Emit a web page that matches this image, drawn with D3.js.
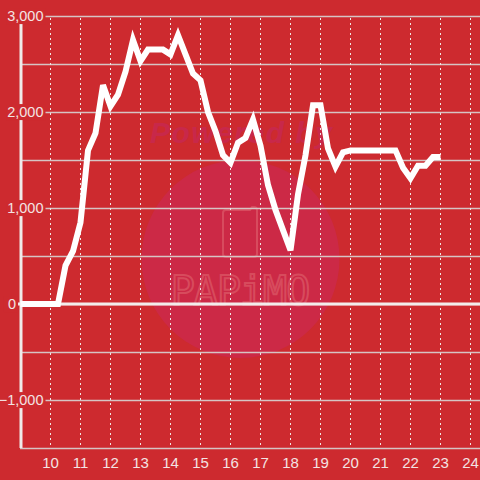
<!DOCTYPE html>
<html>
<head>
<meta charset="utf-8">
<script src="https://cdn.jsdelivr.net/npm/d3@7"></script>
<style>
  html, body { margin: 0; padding: 0; background: #cd2a2f; }
  #chart { width: 480px; height: 480px; }
</style>
</head>
<body>
<div id="chart"></div>
<script>
// quarter-hour times and values
const times = [9, 9.25, 9.5, 9.75, 10, 10.25, 10.5, 10.75, 11, 11.25, 11.5, 11.75,
  12, 12.25, 12.5, 12.75, 13, 13.25, 13.5, 13.75, 14, 14.25, 14.5, 14.75,
  15, 15.25, 15.5, 15.75, 16, 16.25, 16.5, 16.75, 17, 17.25, 17.5, 17.75,
  18, 18.25, 18.5, 18.75, 19, 19.25, 19.5, 19.75, 20, 20.25, 20.5, 20.75,
  21, 21.25, 21.5, 21.75, 22, 22.25, 22.5, 22.75, 23];
const values = [0, 0, 0, 0, 0, 0, 400, 550, 850, 1600, 1780, 2280,
  2060, 2180, 2420, 2750, 2530, 2650, 2650, 2650, 2600, 2800, 2600, 2400,
  2330, 2000, 1800, 1550, 1470, 1680, 1730, 1920, 1650, 1240, 980, 770,
  560, 1140, 1550, 2070, 2070, 1620, 1430, 1580, 1600, 1600, 1600, 1600,
  1600, 1600, 1600, 1420, 1310, 1440, 1440, 1530, 1530];
const xTicks = [10, 11, 12, 13, 14, 15, 16, 17, 18, 19, 20, 21, 22, 23, 24];
const yTicks = [-1000, 0, 1000, 2000, 3000];
const yGrid = [-1500, -1000, -500, 0, 500, 1000, 1500, 2000, 2500, 3000];

const width = 480, height = 480;
const bg = "#cd2a2f";
const svg = d3.select("#chart").append("svg")
  .attr("width", width).attr("height", height);

svg.append("rect").attr("width", width).attr("height", height).attr("fill", bg);

const x = d3.scaleLinear().domain([9, 24.3333]).range([20.5, 480.5]);
const y = d3.scaleLinear().domain([-1500, 3000]).range([448, 16]);

// watermark
const wm = svg.append("g");
wm.append("circle").attr("cx", 240.5).attr("cy", 259).attr("r", 99)
  .attr("fill", "#cc2946");
wm.append("text").attr("x", 150).attr("y", 143)
  .attr("font-family", "Liberation Sans, Arial, sans-serif")
  .attr("font-weight", "bold").attr("font-style", "italic")
  .attr("font-size", 30).attr("letter-spacing", 1.5).attr("fill", "#c8284a")
  .text("Powered by");
wm.append("path")
  .attr("d", "M226,210 h24 l2,-3 h2 a3,3 0 0 1 3,3 v44 a3,3 0 0 1 -3,3 h-28 a3,3 0 0 1 -3,-3 v-41 a3,3 0 0 1 3,-3 z")
  .attr("fill", "none").attr("stroke", "#dc5a68").attr("stroke-width", 2).attr("opacity", 0.7);
wm.append("text").attr("x", 240).attr("y", 305)
  .attr("text-anchor", "middle")
  .attr("font-family", "DejaVu Sans Mono, monospace")
  .attr("font-size", 40).attr("letter-spacing", -1)
  .attr("fill", "none").attr("stroke", "#dc5a68").attr("stroke-width", 2).attr("opacity", 0.7)
  .text("PAPiMO");

// horizontal grid
svg.append("g").selectAll("line").data(yGrid).join("line")
  .attr("x1", 20).attr("x2", width)
  .attr("y1", d => Math.round(y(d)) + 0.5).attr("y2", d => Math.round(y(d)) + 0.5)
  .attr("stroke", "#d6c4c4").attr("stroke-width", 1.5);

// vertical dashed grid
svg.append("g").selectAll("line").data(xTicks).join("line")
  .attr("x1", d => x(d)).attr("x2", d => x(d))
  .attr("y1", y(3000) + 2).attr("y2", y(-1500))
  .attr("stroke", "#f0e6e6").attr("stroke-width", 1)
  .attr("stroke-dasharray", "2 3");

// zero line
svg.append("line").attr("x1", 17).attr("x2", width)
  .attr("y1", y(0)).attr("y2", y(0))
  .attr("stroke", "#f3ecec").attr("stroke-width", 3);

// y axis line
svg.append("line").attr("x1", 21).attr("x2", 21)
  .attr("y1", y(3000) + 8).attr("y2", y(-1500))
  .attr("stroke", "#f0eaea").attr("stroke-width", 3);

// y labels with background boxes (the zero label sits left of the axis)
const fmt = d3.format(",");
const yl = svg.append("g").selectAll("g").data(yTicks).join("g")
  .attr("transform", d => d === 0 ? `translate(12, ${y(d)})` : `translate(43.5, ${y(d)})`);
yl.append("text")
  .attr("text-anchor", d => d === 0 ? "middle" : "end").attr("dy", "0.35em")
  .attr("font-family", "Liberation Sans, Arial, sans-serif")
  .attr("font-size", 14.5).attr("fill", "#f3e3e3")
  .text(d => fmt(d))
  .each(function (d) {
    const b = this.getBBox();
    const pad = d === 0 ? 4 : 1;
    d3.select(this.parentNode).insert("rect", "text")
      .attr("x", b.x - pad).attr("y", b.y).attr("width", b.width + pad + 2).attr("height", b.height)
      .attr("fill", bg);
  });

// x labels
svg.append("g").selectAll("text").data(xTicks).join("text")
  .attr("x", d => x(d)).attr("y", 468)
  .attr("text-anchor", "middle")
  .attr("font-family", "Liberation Sans, Arial, sans-serif")
  .attr("font-size", 15).attr("fill", "#f3e3e3")
  .text(d => d);

// data line
const line = d3.line().x((d, i) => x(times[i])).y(d => y(d));
svg.append("path").datum(values)
  .attr("d", line)
  .attr("fill", "none").attr("stroke", "#ffffff")
  .attr("stroke-width", 6).attr("stroke-linejoin", "miter");
</script>
</body>
</html>
